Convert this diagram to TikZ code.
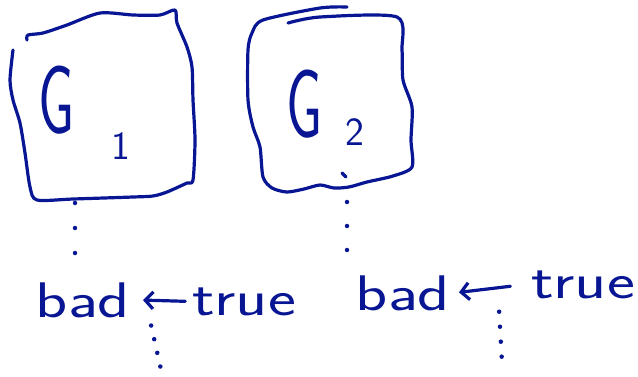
\documentclass[tikz,border=0pt]{standalone}
\usepackage{tikz}
\usetikzlibrary{arrows.meta}
\definecolor{ink}{RGB}{8,22,148}

\begin{document}
\begin{tikzpicture}[x=1pt, y=-1pt, ink, line width=3.2pt, line cap=round, line join=round,
    pen/.style={draw=ink, smooth, tension=0.45},
    gname/.style={font=\sffamily\fontsize{72}{72}\selectfont, xscale=0.8, yscale=1.35, transform shape, inner sep=0pt},
    subname/.style={font=\sffamily\fontsize{40}{40}\selectfont, inner sep=0pt},
    word/.style={font=\sffamily\fontsize{50}{54}\selectfont, xscale=1.33, transform shape, anchor=base, inner sep=2pt},
    assign/.style={-{Straight Barb[length=8pt, width=17pt]}},
    dots/.style={line width=4.5pt, dash pattern=on 0pt off #1}]
         \useasboundingbox (0, 0) rectangle (638, 376);
         \draw [pen] plot coordinates {(27,40) (28,35) (43,33) (67,25) (100,13) (133,15) (160,15) (175,10)
                 (177,23) (187,47) (192,67) (193,100) (195,140) (193,180) (187,183) (167,192) (153,196)
                 (133,197) (73,199) (37,200) (30,187) (25,153) (20,123) (13,100) (10,80) (13,50)};
         \draw [pen] plot coordinates {(347,7) (320,8) (263,20) (252,33) (248,50) (248,100) (253,127)
                 (260,147) (263,177) (272,188) (287,192) (304,189) (320,185) (334,188) (349,187) (367,182)
                 (393,176) (412,167) (411,140) (412,107) (403,80) (402,50) (397,17) (320,17) (288,23)};
         \draw (342,173) -- (346,177);
         \node [gname] (G1) at (57, 100) {G};
         \node [subname] (sub1) at (121, 146) {1};
         \node [gname] (G2) at (305, 104) {G};
         \node [subname] (sub2) at (355, 132) {2};
         \coordinate (g1foot) at (75, 203);
         \coordinate (g2foot) at (347, 202);
         \node [word] (bad1) at (83, 317) {bad};
         \node [word] (true1) at (244, 315) {true};
         \node [word] (bad2) at (403, 310) {bad};
         \node [word] (true2) at (583, 298) {true};
         \draw [assign, shorten <=2pt, shorten >=8pt] (true1.west) -- coordinate [pos=0.8] (mid1) (bad1.east);
         \draw [assign, shorten <=16pt, shorten >=4pt] (true2.west) -- coordinate [pos=0.4] (mid2) (bad2.east);
         \coordinate (low1) at (162, 374);
         \coordinate (low2) at (502, 362);
         \draw [dots=25pt, shorten >=12pt] (g1foot) -- (g1foot |- bad1.north);
         \draw [dots=24pt, shorten >=8pt] (g2foot) -- (g2foot |- bad2.north);
         \draw [dots=14pt, shorten <=26pt] (mid1) -- (low1);
         \draw [dots=15pt, shorten <=24pt] (mid2) -- (low2);
\end{tikzpicture}
\end{document}
